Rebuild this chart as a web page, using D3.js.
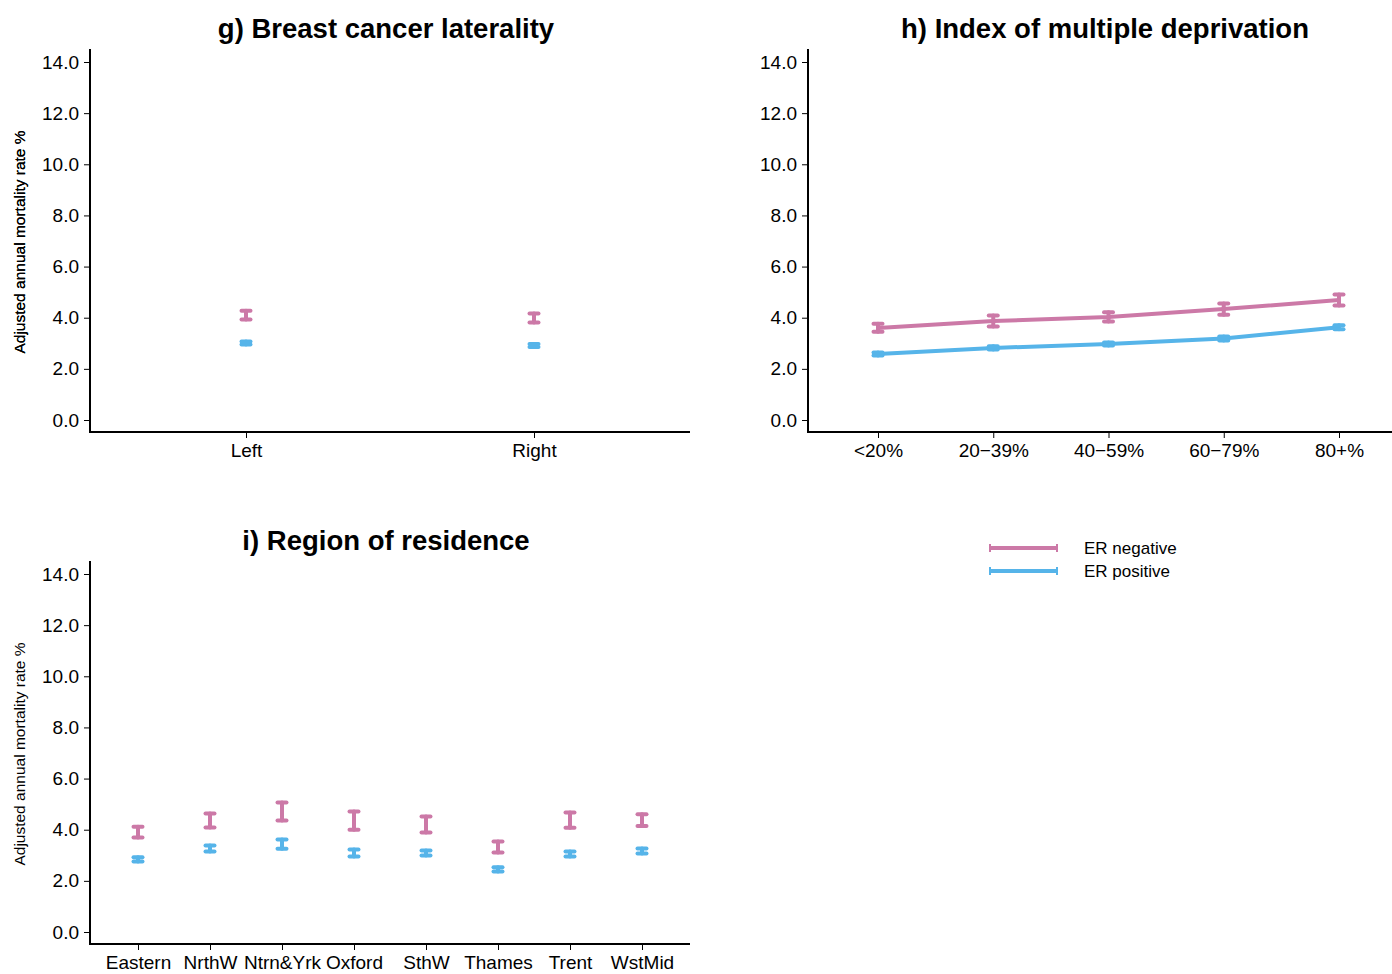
<!DOCTYPE html>
<html>
<head>
<meta charset="utf-8">
<script src="https://cdn.jsdelivr.net/npm/d3@7"></script>
<style>
  body { margin: 0; background: #fff; }
  text { font-family: "Liberation Sans", Arial, sans-serif; }
</style>
</head>
<body>
<svg width="1392" height="974"></svg>
<script>
// y ticks shared by all panels
const yTicks = [0, 2, 4, 6, 8, 10, 12, 14]

// g) laterality
const lateralityCats = ["Left", "Right"]
const lateralityNeg = [4.10, 3.99]
const lateralityNegLo = [3.93, 3.81]
const lateralityNegHi = [4.27, 4.16]
const lateralityPos = [3.01, 2.91]
const lateralityPosLo = [2.95, 2.85]
const lateralityPosHi = [3.07, 2.97]

// h) deprivation
const imdCats = ["<20%", "20\u221239%", "40\u221259%", "60\u221279%", "80+%"]
const imdNeg = [3.60, 3.87, 4.03, 4.34, 4.69]
const imdNegLo = [3.45, 3.66, 3.85, 4.12, 4.48]
const imdNegHi = [3.76, 4.09, 4.21, 4.56, 4.91]
const imdPos = [2.58, 2.82, 2.97, 3.19, 3.63]
const imdPosLo = [2.52, 2.76, 2.91, 3.11, 3.55]
const imdPosHi = [2.64, 2.88, 3.03, 3.27, 3.71]

// i) region
const regionCats = ["Eastern", "NrthW", "Ntrn&Yrk", "Oxford", "SthW", "Thames", "Trent", "WstMid"]
const regionNeg = [3.91, 4.36, 4.71, 4.36, 4.20, 3.32, 4.38, 4.38]
const regionNegLo = [3.70, 4.09, 4.36, 4.00, 3.89, 3.11, 4.08, 4.15]
const regionNegHi = [4.12, 4.63, 5.06, 4.71, 4.52, 3.54, 4.67, 4.60]
const regionPos = [2.84, 3.27, 3.44, 3.09, 3.09, 2.45, 3.05, 3.17]
const regionPosLo = [2.76, 3.15, 3.26, 2.95, 2.99, 2.37, 2.95, 3.07]
const regionPosHi = [2.92, 3.38, 3.62, 3.23, 3.19, 2.53, 3.15, 3.27]

const NEG_COL = "#cc79a7"
const POS_COL = "#56b4e9"

const svg = d3.select("svg")

function drawPanel(opt) {
    const g = svg.append("g")
    const y = d3.scaleLinear().domain([0, 14]).range([opt.y0, opt.y0 - 358])
    const x = d3.scalePoint().domain(opt.cats).range(opt.xRange)

    // title
    g.append("text")
        .attr("x", opt.titleX).attr("y", opt.titleY)
        .attr("text-anchor", "middle")
        .attr("font-size", 27.5).attr("font-weight", "bold")
        .text(opt.title)

    // y label
    g.append("text")
        .attr("transform", `translate(25,${opt.y0 - 178}) rotate(-90)`)
        .attr("text-anchor", "middle")
        .attr("font-size", 15.5)
        .text("Adjusted annual mortality rate %")

    // y axis
    const yAxis = g.append("g")
        .attr("transform", `translate(${opt.axisX},0)`)
        .call(d3.axisLeft(y).tickValues(yTicks).tickFormat(d3.format(".1f")).tickSize(6).tickPadding(5))
    yAxis.select(".domain").remove()
    yAxis.selectAll(".tick line").attr("stroke", "#000").attr("stroke-width", 1)
    yAxis.selectAll(".tick text").attr("font-size", 19).attr("fill", "#000")
        .style("font-family", "'Liberation Sans', Arial, sans-serif")

    // x axis
    const xAxis = g.append("g")
        .attr("transform", `translate(0,${opt.y0 + 12})`)
        .call(d3.axisBottom(x).tickSize(6).tickPadding(6))
    xAxis.select(".domain").remove()
    xAxis.selectAll(".tick line").attr("stroke", "#000").attr("stroke-width", 1)
    xAxis.selectAll(".tick text").attr("font-size", 19).attr("fill", "#000")
        .style("font-family", "'Liberation Sans', Arial, sans-serif")

    // L-shaped frame
    g.append("path")
        .attr("d", `M${opt.axisX},${opt.y0 - 371}V${opt.y0 + 12}H${opt.xEnd}`)
        .attr("fill", "none").attr("stroke", "#000").attr("stroke-width", 2)

    const series = [
        {mid: opt.pos, lo: opt.posLo, hi: opt.posHi, col: POS_COL},
        {mid: opt.neg, lo: opt.negLo, hi: opt.negHi, col: NEG_COL}
    ]
    for (const s of series) {
        const pts = opt.cats.map((c, i) => ({c: c, m: s.mid[i], lo: s.lo[i], hi: s.hi[i]}))
        if (opt.lines) {
            g.append("path")
                .datum(pts)
                .attr("d", d3.line().x(d => x(d.c)).y(d => y(d.m)))
                .attr("fill", "none").attr("stroke", s.col).attr("stroke-width", 4)
                .attr("stroke-linecap", "round")
        }
        const eb = g.append("g").selectAll("g").data(pts).enter().append("g")
            .attr("stroke", s.col).attr("stroke-width", 4).attr("stroke-linecap", "round")
        eb.append("line")
            .attr("x1", d => x(d.c)).attr("x2", d => x(d.c))
            .attr("y1", d => y(d.lo)).attr("y2", d => y(d.hi))
        eb.append("line")
            .attr("x1", d => x(d.c) - 4.5).attr("x2", d => x(d.c) + 4.5)
            .attr("y1", d => y(d.lo)).attr("y2", d => y(d.lo))
        eb.append("line")
            .attr("x1", d => x(d.c) - 4.5).attr("x2", d => x(d.c) + 4.5)
            .attr("y1", d => y(d.hi)).attr("y2", d => y(d.hi))
    }
}

drawPanel({
    title: "g) Breast cancer laterality", titleX: 386, titleY: 38,
    cats: lateralityCats, xRange: [246, 534], axisX: 90, xEnd: 690, y0: 420,
    neg: lateralityNeg, negLo: lateralityNegLo, negHi: lateralityNegHi,
    pos: lateralityPos, posLo: lateralityPosLo, posHi: lateralityPosHi, lines: false
})

drawPanel({
    title: "h) Index of multiple deprivation", titleX: 1105, titleY: 38,
    cats: imdCats, xRange: [878, 1339], axisX: 808, xEnd: 1392, y0: 420,
    neg: imdNeg, negLo: imdNegLo, negHi: imdNegHi,
    pos: imdPos, posLo: imdPosLo, posHi: imdPosHi, lines: true
})

drawPanel({
    title: "i) Region of residence", titleX: 386, titleY: 550,
    cats: regionCats, xRange: [138, 642], axisX: 90, xEnd: 690, y0: 932,
    neg: regionNeg, negLo: regionNegLo, negHi: regionNegHi,
    pos: regionPos, posLo: regionPosLo, posHi: regionPosHi, lines: false
})

// legend
const legendItems = [
    {label: "ER negative", col: NEG_COL},
    {label: "ER positive", col: POS_COL}
]
const lg = svg.append("g").selectAll("g").data(legendItems).enter().append("g")
    .attr("transform", (d, i) => `translate(990,${548 + i * 23})`)
lg.append("line").attr("x1", 0).attr("x2", 67).attr("y1", 0).attr("y2", 0)
    .attr("stroke", d => d.col).attr("stroke-width", 4)
lg.append("line").attr("x1", 0).attr("x2", 0).attr("y1", -4).attr("y2", 4)
    .attr("stroke", d => d.col).attr("stroke-width", 2)
lg.append("line").attr("x1", 67).attr("x2", 67).attr("y1", -4).attr("y2", 4)
    .attr("stroke", d => d.col).attr("stroke-width", 2)
lg.append("text").attr("x", 94).attr("y", 6)
    .attr("font-size", 17).text(d => d.label)
</script>
</body>
</html>
